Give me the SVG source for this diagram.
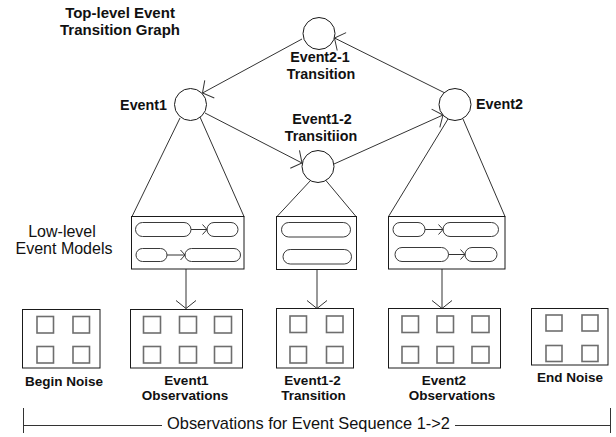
<svg xmlns="http://www.w3.org/2000/svg" width="616" height="437" viewBox="0 0 616 437">
  <style>
    .bg { fill: #ffffff; }
    .state { fill: #ffffff; stroke: #1a1a1a; stroke-width: 1; }
    .edge { fill: none; stroke: #333333; stroke-width: 1; }
    .box { fill: #ffffff; stroke: #1a1a1a; stroke-width: 1; }
    .pill { fill: #ffffff; stroke: #3a3a3a; stroke-width: 1; }
    .cell { fill: #ffffff; stroke: #6e6e6e; stroke-width: 1.6; }
    .lbl { font-family: "Liberation Sans", Arial, sans-serif; font-weight: bold; font-size: 14.3px; fill: #111111; }
    .title { font-family: "Liberation Sans", Arial, sans-serif; font-weight: bold; font-size: 15px; fill: #111111; }
    .side { font-family: "Liberation Sans", Arial, sans-serif; font-size: 16px; fill: #111111; }
    .obs { font-family: "Liberation Sans", Arial, sans-serif; font-weight: bold; font-size: 13.5px; fill: #111111; }
    .axis { font-family: "Liberation Sans", Arial, sans-serif; font-size: 16.4px; fill: #111111; }
  </style>
  <defs>
    <marker id="head" markerUnits="userSpaceOnUse" orient="auto" refX="0" refY="0" markerWidth="20" markerHeight="24" viewBox="-10 -12 12 24" overflow="visible">
      <path d="M-8,-10 L0,0 L-8,10" fill="none" stroke="#333333" stroke-width="1"/>
    </marker>
    <marker id="small" markerUnits="userSpaceOnUse" orient="auto" refX="0" refY="0" markerWidth="10" markerHeight="12" viewBox="-6 -6 8 12" overflow="visible">
      <path d="M-4.5,-5 L0,0 L-4.5,5" fill="none" stroke="#333333" stroke-width="1"/>
    </marker>
  </defs>

  <rect class="bg" x="0" y="0" width="616" height="437"/>

  <!-- heading -->
  <g id="title">
    <text class="title" x="120" y="17.5" text-anchor="middle">Top-level Event</text>
    <text class="title" x="120" y="35" text-anchor="middle">Transition Graph</text>
  </g>

  <!-- connectors: transitions, fan-out to model boxes, and model-to-observation arrows -->
  <g id="connectors">
    <line class="edge" x1="445" y1="93" x2="334.5" y2="38" marker-end="url(#head)"/>
    <line class="edge" x1="302" y1="39" x2="202.5" y2="93" marker-end="url(#head)"/>
    <line class="edge" x1="205" y1="113" x2="302" y2="163" marker-end="url(#head)"/>
    <line class="edge" x1="334" y1="164" x2="443" y2="115" marker-end="url(#head)"/>

    <line class="edge" x1="180" y1="118" x2="132" y2="216.5"/>
    <line class="edge" x1="200" y1="117" x2="244" y2="216.5"/>
    <line class="edge" x1="311" y1="180" x2="277" y2="216.5"/>
    <line class="edge" x1="325.5" y1="180" x2="356" y2="216.5"/>
    <line class="edge" x1="448" y1="119" x2="388.5" y2="216.5"/>
    <line class="edge" x1="463" y1="119" x2="505" y2="216.5"/>

    <line class="edge" x1="186" y1="269" x2="186" y2="308.5" marker-end="url(#head)"/>
    <line class="edge" x1="317" y1="269.5" x2="317" y2="308.5" marker-end="url(#head)"/>
    <line class="edge" x1="442" y1="269" x2="442" y2="308.5" marker-end="url(#head)"/>
  </g>

  <!-- top-level event states -->
  <g id="event2-1">
    <circle class="state" cx="319" cy="33.5" r="16"/>
    <text class="lbl" x="320" y="62" text-anchor="middle">Event2-1</text>
    <text class="lbl" x="321" y="78.5" text-anchor="middle">Transition</text>
  </g>
  <g id="event1">
    <circle class="state" cx="190.5" cy="104.5" r="16"/>
    <text class="lbl" x="167" y="110" text-anchor="end">Event1</text>
  </g>
  <g id="event2">
    <circle class="state" cx="455" cy="104.5" r="16"/>
    <text class="lbl" x="476" y="108.5">Event2</text>
  </g>
  <g id="event1-2">
    <circle class="state" cx="318" cy="166.5" r="16"/>
    <text class="lbl" x="322" y="124" text-anchor="middle">Event1-2</text>
    <text class="lbl" x="321" y="141" text-anchor="middle">Transitiion</text>
  </g>

  <!-- low-level event models -->
  <g id="lowlevel-label">
    <text class="side" x="62" y="236.5" text-anchor="middle">Low-level</text>
    <text class="side" x="64" y="253.5" text-anchor="middle">Event Models</text>
  </g>
  <g id="model-event1">
    <rect class="box" x="131.5" y="216.5" width="112.5" height="52.5"/>
    <rect class="pill" x="135.5" y="222.5" width="55.5" height="14" rx="7"/>
    <rect class="pill" x="207" y="222.5" width="31" height="14" rx="7"/>
    <line class="edge" x1="191" y1="229.5" x2="207" y2="229.5" marker-end="url(#small)"/>
    <rect class="pill" x="136" y="248.5" width="31" height="13" rx="6.5"/>
    <rect class="pill" x="185" y="248.5" width="55.5" height="13" rx="6.5"/>
    <line class="edge" x1="167" y1="255" x2="185" y2="255" marker-end="url(#small)"/>
  </g>
  <g id="model-event1-2">
    <rect class="box" x="276.5" y="216.5" width="80" height="53"/>
    <rect class="pill" x="281.5" y="222.5" width="69" height="14.5" rx="7.25"/>
    <rect class="pill" x="283" y="249.5" width="68.5" height="14.5" rx="7.25"/>
  </g>
  <g id="model-event2">
    <rect class="box" x="388.5" y="216.5" width="116.5" height="52.5"/>
    <rect class="pill" x="393" y="222.5" width="32" height="14" rx="7"/>
    <rect class="pill" x="443" y="222.5" width="55.5" height="14" rx="7"/>
    <line class="edge" x1="425" y1="229.5" x2="443" y2="229.5" marker-end="url(#small)"/>
    <rect class="pill" x="395" y="247.5" width="53.5" height="14" rx="7"/>
    <rect class="pill" x="465" y="247.5" width="32" height="14" rx="7"/>
    <line class="edge" x1="448.5" y1="254.5" x2="465" y2="254.5" marker-end="url(#small)"/>
  </g>

  <!-- observation segments -->
  <g id="obs-begin-noise">
    <rect class="box" x="22.5" y="309.5" width="77.5" height="58.5"/>
    <rect class="cell" x="37" y="316.5" width="16.5" height="16.5"/>
    <rect class="cell" x="73" y="316.5" width="16.5" height="16.5"/>
    <rect class="cell" x="37" y="346.5" width="16.5" height="16.5"/>
    <rect class="cell" x="73" y="346.5" width="16.5" height="16.5"/>
    <text class="obs" x="64" y="386" text-anchor="middle">Begin Noise</text>
  </g>
  <g id="obs-event1">
    <rect class="box" x="130.5" y="309.5" width="112" height="58.5"/>
    <rect class="cell" x="143.5" y="316.5" width="17" height="16.5"/>
    <rect class="cell" x="179.5" y="316.5" width="17" height="16.5"/>
    <rect class="cell" x="214.5" y="316.5" width="17" height="16.5"/>
    <rect class="cell" x="143.5" y="346.5" width="17" height="16.5"/>
    <rect class="cell" x="179.5" y="346.5" width="17" height="16.5"/>
    <rect class="cell" x="214.5" y="346.5" width="17" height="16.5"/>
    <text class="obs" x="186.5" y="385" text-anchor="middle">Event1</text>
    <text class="obs" x="185" y="400" text-anchor="middle">Observations</text>
  </g>
  <g id="obs-event1-2">
    <rect class="box" x="276.5" y="308.5" width="77" height="59.5"/>
    <rect class="cell" x="290" y="316" width="16.5" height="16.5"/>
    <rect class="cell" x="326.5" y="316" width="16.5" height="16.5"/>
    <rect class="cell" x="290" y="346.5" width="16.5" height="16.5"/>
    <rect class="cell" x="326.5" y="346.5" width="16.5" height="16.5"/>
    <text class="obs" x="312.5" y="385" text-anchor="middle">Event1-2</text>
    <text class="obs" x="313.5" y="400" text-anchor="middle">Transition</text>
  </g>
  <g id="obs-event2">
    <rect class="box" x="388.5" y="308.5" width="112" height="59.5"/>
    <rect class="cell" x="402" y="316" width="16.5" height="16.5"/>
    <rect class="cell" x="437" y="316" width="16.5" height="16.5"/>
    <rect class="cell" x="472" y="316" width="17" height="16.5"/>
    <rect class="cell" x="402" y="346.5" width="16.5" height="16.5"/>
    <rect class="cell" x="437" y="346.5" width="16.5" height="16.5"/>
    <rect class="cell" x="472" y="346.5" width="17" height="16.5"/>
    <text class="obs" x="444" y="385" text-anchor="middle">Event2</text>
    <text class="obs" x="452" y="400" text-anchor="middle">Observations</text>
  </g>
  <g id="obs-end-noise">
    <rect class="box" x="531.5" y="308.5" width="76.5" height="56.5"/>
    <rect class="cell" x="546" y="315" width="16" height="16"/>
    <rect class="cell" x="582" y="315" width="16" height="16"/>
    <rect class="cell" x="546" y="345.5" width="16" height="16"/>
    <rect class="cell" x="582" y="345.5" width="16" height="16"/>
    <text class="obs" x="570" y="382" text-anchor="middle">End Noise</text>
  </g>

  <!-- sequence span -->
  <g id="sequence-span">
    <line class="edge" x1="23.5" y1="408" x2="23.5" y2="433"/>
    <line class="edge" x1="610.5" y1="408" x2="610.5" y2="433"/>
    <line class="edge" x1="23.5" y1="425.5" x2="162" y2="425.5"/>
    <line class="edge" x1="455" y1="425.5" x2="610.5" y2="425.5"/>
    <text class="axis" x="308.5" y="428.5" text-anchor="middle">Observations for Event Sequence 1-&gt;2</text>
  </g>
</svg>
